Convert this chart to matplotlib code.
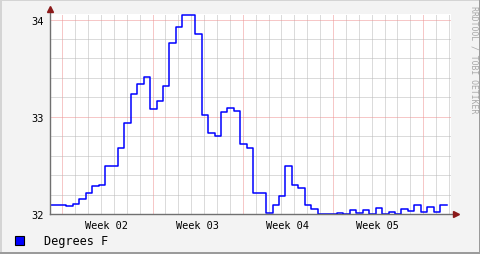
import matplotlib
matplotlib.use("Agg")
import matplotlib.pyplot as plt
from matplotlib.patches import Rectangle
import numpy as np

# ---- data (temperature in degrees F, one sample per 12 h) ----
values = [32.093, 32.093, 32.093, 32.082, 32.106, 32.155, 32.216, 32.289, 32.302,
          32.498, 32.498, 32.683, 32.938, 33.237, 33.340, 33.410, 33.075, 33.158,
          33.320, 33.756, 33.918, 34.050, 34.050, 33.849, 33.020, 32.835, 32.804,
          33.052, 33.093, 33.055, 32.720, 32.683, 32.216, 32.216, 32.013, 32.093,
          32.186, 32.498, 32.302, 32.268, 32.093, 32.052, 32.000, 32.000, 32.000,
          32.010, 32.000, 32.040, 32.013, 32.040, 32.003, 32.062, 32.003, 32.020,
          32.003, 32.050, 32.034, 32.096, 32.020, 32.075, 32.024, 32.096]
t_start = -0.235      # day of first sample (relative to left edge)
t_step = 0.5          # days per sample
week_labels = ["Week 02", "Week 03", "Week 04", "Week 05"]
week_start = 0.955    # day of first week boundary
y_ticks = [32, 33, 34]
legend_label = "Degrees F"

W, H = 481, 255
fig = plt.figure(figsize=(W / 100, H / 100), dpi=100, facecolor="#F3F3F3")

# 3D-ish frame
def fr(x, y, w, h, c):
    fig.patches.append(Rectangle((x / W, 1 - (y + h) / H), w / W, h / H,
                                 transform=fig.transFigure, color=c, lw=0, zorder=0))
fr(0, 0, W, 2, "#D4D4D4")
fr(0, 0, 2, H, "#D4D4D4")
fr(W - 2, 0, 2, H, "#9B9B9B")
fr(0, H - 2, W, 2, "#9B9B9B")

left, right, top, bottom = 50, 451, 15, 215
ax = fig.add_axes([left / W, 1 - bottom / H, (right - left) / W, (bottom - top) / H])
ax.set_facecolor("white")
px_per_day = 12.89
ax.set_xlim(0, (right - left) / px_per_day)
ax.set_ylim(32, 32 + (bottom - top) / 97.25)
for s in ax.spines.values():
    s.set_visible(False)

ndays = int(ax.get_xlim()[1] - week_start) + 1
# grid (1px on / 1px off dotted)
minor_c = "#B8B8B8"
major_c = "#EE9090"
dot = (0, (1, 1))
gkw = dict(lw=0.72, ls=dot, zorder=1)
for d in range(ndays):
    x = week_start + d
    ax.axvline(x, color=major_c if d % 7 == 0 else minor_c, **gkw)
for yv in np.arange(32.2, 34.0, 0.2):
    if abs(yv - 33) > 0.01:
        ax.axhline(yv, color=minor_c, **gkw)
for yv in y_ticks:
    ax.axhline(yv, color=major_c, **gkw)

# data
t = [t_start + t_step * k for k in range(len(values) + 1)]
v = values + [values[-1]]
ax.step(t, v, where="post", color="#0000FF", lw=1.1, zorder=3)

# axes with arrows
axis_c = "#707070"
arrow_c = "#8B1A1A"
ax.plot([0, 0], [0, 1.02], transform=ax.transAxes, color=axis_c, lw=1, clip_on=False, zorder=4)
ax.plot([0, 1.01], [0, 0], transform=ax.transAxes, color=axis_c, lw=1, clip_on=False, zorder=4)
ax.plot([0], [1.025], marker="^", ms=5, color=arrow_c, transform=ax.transAxes, clip_on=False, zorder=5)
ax.plot([1.012], [0], marker=">", ms=5, color=arrow_c, transform=ax.transAxes, clip_on=False, zorder=5)

# ticks
ax.set_yticks(y_ticks)
ax.set_yticklabels([str(y) for y in y_ticks], family="DejaVu Sans Mono", fontsize=7.5)
ax.set_xticks([week_start + 3.45 + 7 * i for i in range(len(week_labels))])
ax.set_xticklabels(week_labels, family="DejaVu Sans Mono", fontsize=7.4)
ax.tick_params(axis="both", length=0)
ax.tick_params(axis="y", pad=4.2)
ax.tick_params(axis="x", pad=4.0)

# legend
fig.patches.append(Rectangle((15 / W, 1 - 246 / H), 9 / W, 9 / H, transform=fig.transFigure,
                             facecolor="#0000FF", edgecolor="black", lw=0.8))
fig.text(44 / W, 1 - 241.5 / H, legend_label, family="DejaVu Sans Mono", fontsize=8.6,
         va="center", ha="left")

# watermark
fig.text(474 / W, 1 - 60 / H, "RRDTOOL / TOBI OETIKER", rotation=270, ha="center", va="center",
         family="DejaVu Sans Mono", fontsize=5.9, color="#A8A8A8")

fig.savefig("out.png", dpi=100, facecolor=fig.get_facecolor())
